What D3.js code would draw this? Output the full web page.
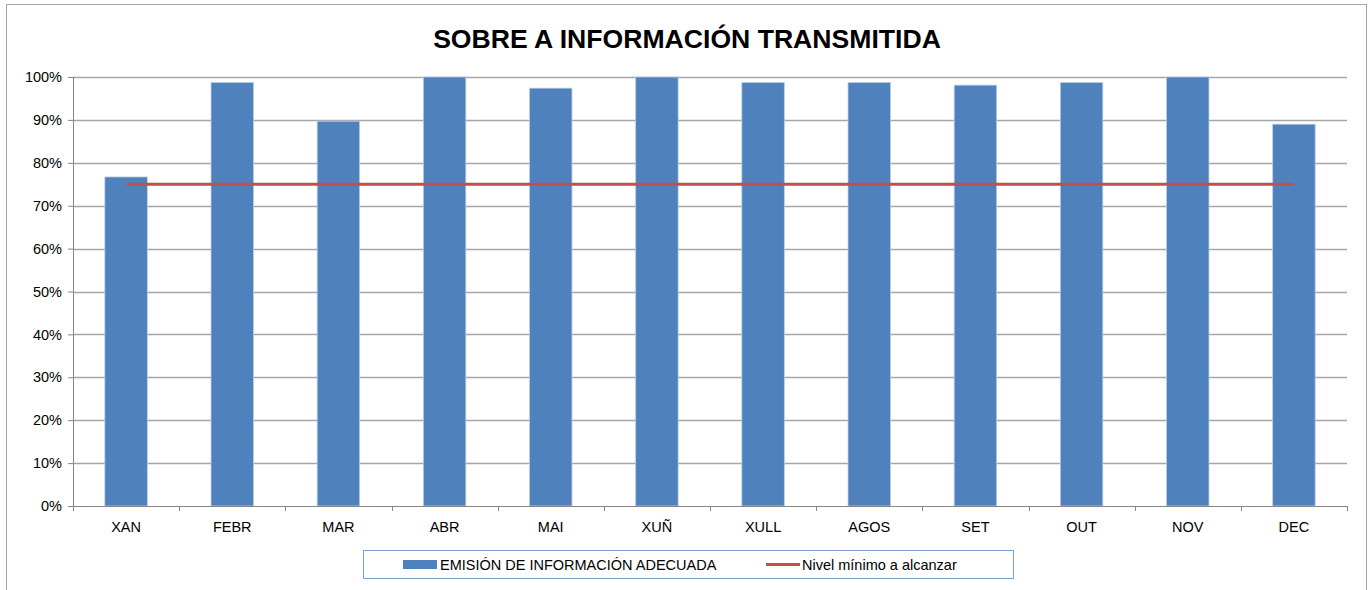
<!DOCTYPE html>
<html>
<head>
<meta charset="utf-8">
<script src="https://cdn.jsdelivr.net/npm/d3@7"></script>
<style>
  body { margin: 0; background: #fff; }
  text { font-family: "Liberation Sans", Arial, sans-serif; fill: #000; }
</style>
</head>
<body>
<div class="chart"></div>
<script>
// data
var months = ["XAN", "FEBR", "MAR", "ABR", "MAI", "XUÑ", "XULL", "AGOS", "SET", "OUT", "NOV", "DEC"];
var emision = [0.767, 0.987, 0.897, 1.0, 0.974, 1.0, 0.987, 0.987, 0.981, 0.987, 1.0, 0.890];
var nivelMinimo = [0.75, 0.75, 0.75, 0.75, 0.75, 0.75, 0.75, 0.75, 0.75, 0.75, 0.75, 0.75];
var yTicks = [0, 0.1, 0.2, 0.3, 0.4, 0.5, 0.6, 0.7, 0.8, 0.9, 1.0];
var seriesNames = ["EMISIÓN DE INFORMACIÓN ADECUADA", "Nivel mínimo a alcanzar"];

var W = 1370, H = 590;
var margin = {top: 77, right: 23, bottom: 84, left: 73},
    width = W - margin.left - margin.right,
    height = H - margin.top - margin.bottom;

var svg = d3.select(".chart").append("svg")
    .attr("width", W)
    .attr("height", H);

// chart frame
svg.append("rect")
    .attr("x", 6.5).attr("y", 4.5)
    .attr("width", 1360).attr("height", 600)
    .attr("fill", "none")
    .attr("stroke", "#a6a6a6");

svg.append("text")
    .attr("x", 687).attr("y", 48)
    .attr("text-anchor", "middle")
    .style("font-size", "26.6px")
    .style("font-weight", "bold")
    .text("SOBRE A INFORMACIÓN TRANSMITIDA");

var g = svg.append("g")
    .attr("transform", "translate(" + margin.left + "," + margin.top + ")");

var x = d3.scaleBand().domain(months).range([0, width]).paddingInner(0.6).paddingOuter(0.3);
var xc = d3.scalePoint().domain(months).range([0, width]).padding(0.5);
var y = d3.scaleLinear().domain([0, 1]).range([height, 0]);

// gridlines
g.append("g")
    .selectAll("line")
    .data(yTicks.slice(1))
    .enter().append("line")
    .attr("x1", 0).attr("x2", width)
    .attr("y1", function(d) { return Math.round(y(d)) + 0.5; })
    .attr("y2", function(d) { return Math.round(y(d)) + 0.5; })
    .attr("stroke", "#a6a6a6")
    .attr("stroke-width", 1.3);

// y axis
var yAxis = g.append("g")
    .call(d3.axisLeft(y).tickValues(yTicks).tickFormat(d3.format(".0%")).tickSize(5).tickPadding(6));
yAxis.select(".domain").attr("stroke", "#868686").attr("d", "M0.5,0V" + height);
yAxis.selectAll(".tick line").attr("stroke", "#868686");
yAxis.selectAll("text").style("font-size", "14.5px").style("font-family", "Liberation Sans, Arial, sans-serif");

// bars
g.append("g")
    .selectAll("rect")
    .data(emision)
    .enter().append("rect")
    .attr("x", function(d, i) { return x(months[i]); })
    .attr("y", function(d) { return y(d); })
    .attr("width", x.bandwidth())
    .attr("height", function(d) { return height - y(d); })
    .attr("fill", "#4f81bd")
    .attr("stroke", "#b9cde5")
    .attr("stroke-width", 0.8);

// x axis
var step = width / months.length;
var xAxis = g.append("g")
    .attr("transform", "translate(0," + height + ")");
xAxis.append("line")
    .attr("x1", 0).attr("x2", width)
    .attr("y1", 0.5).attr("y2", 0.5)
    .attr("stroke", "#868686");
xAxis.selectAll(".xt")
    .data(d3.range(months.length + 1))
    .enter().append("line")
    .attr("x1", function(i) { return Math.round(i * step) + 0.5; })
    .attr("x2", function(i) { return Math.round(i * step) + 0.5; })
    .attr("y1", 0).attr("y2", 5)
    .attr("stroke", "#868686");
xAxis.selectAll(".xl")
    .data(months)
    .enter().append("text")
    .attr("x", function(d) { return xc(d); })
    .attr("y", 26)
    .attr("text-anchor", "middle")
    .style("font-size", "14.5px")
    .text(function(d) { return d; });

// target line
var line = d3.line()
    .x(function(d, i) { return xc(months[i]); })
    .y(function(d) { return y(d); });
g.append("path")
    .datum(nivelMinimo)
    .attr("d", line)
    .attr("fill", "none")
    .attr("stroke", "#c0504d")
    .attr("stroke-width", 3);

// legend
var legend = svg.append("g").attr("transform", "translate(363,550)");
legend.append("rect")
    .attr("x", 0.5).attr("y", 0.5)
    .attr("width", 650).attr("height", 28)
    .attr("fill", "#fff")
    .attr("stroke", "#7f9fcf");
legend.append("rect")
    .attr("x", 40).attr("y", 10)
    .attr("width", 34).attr("height", 9)
    .attr("fill", "#4f81bd");
legend.append("text")
    .attr("x", 77).attr("y", 19.5)
    .style("font-size", "14.5px")
    .text(seriesNames[0]);
legend.append("line")
    .attr("x1", 403).attr("x2", 437)
    .attr("y1", 14.5).attr("y2", 14.5)
    .attr("stroke", "#c0504d")
    .attr("stroke-width", 3);
legend.append("text")
    .attr("x", 439).attr("y", 19.5)
    .style("font-size", "14.5px")
    .text(seriesNames[1]);
</script>
</body>
</html>
